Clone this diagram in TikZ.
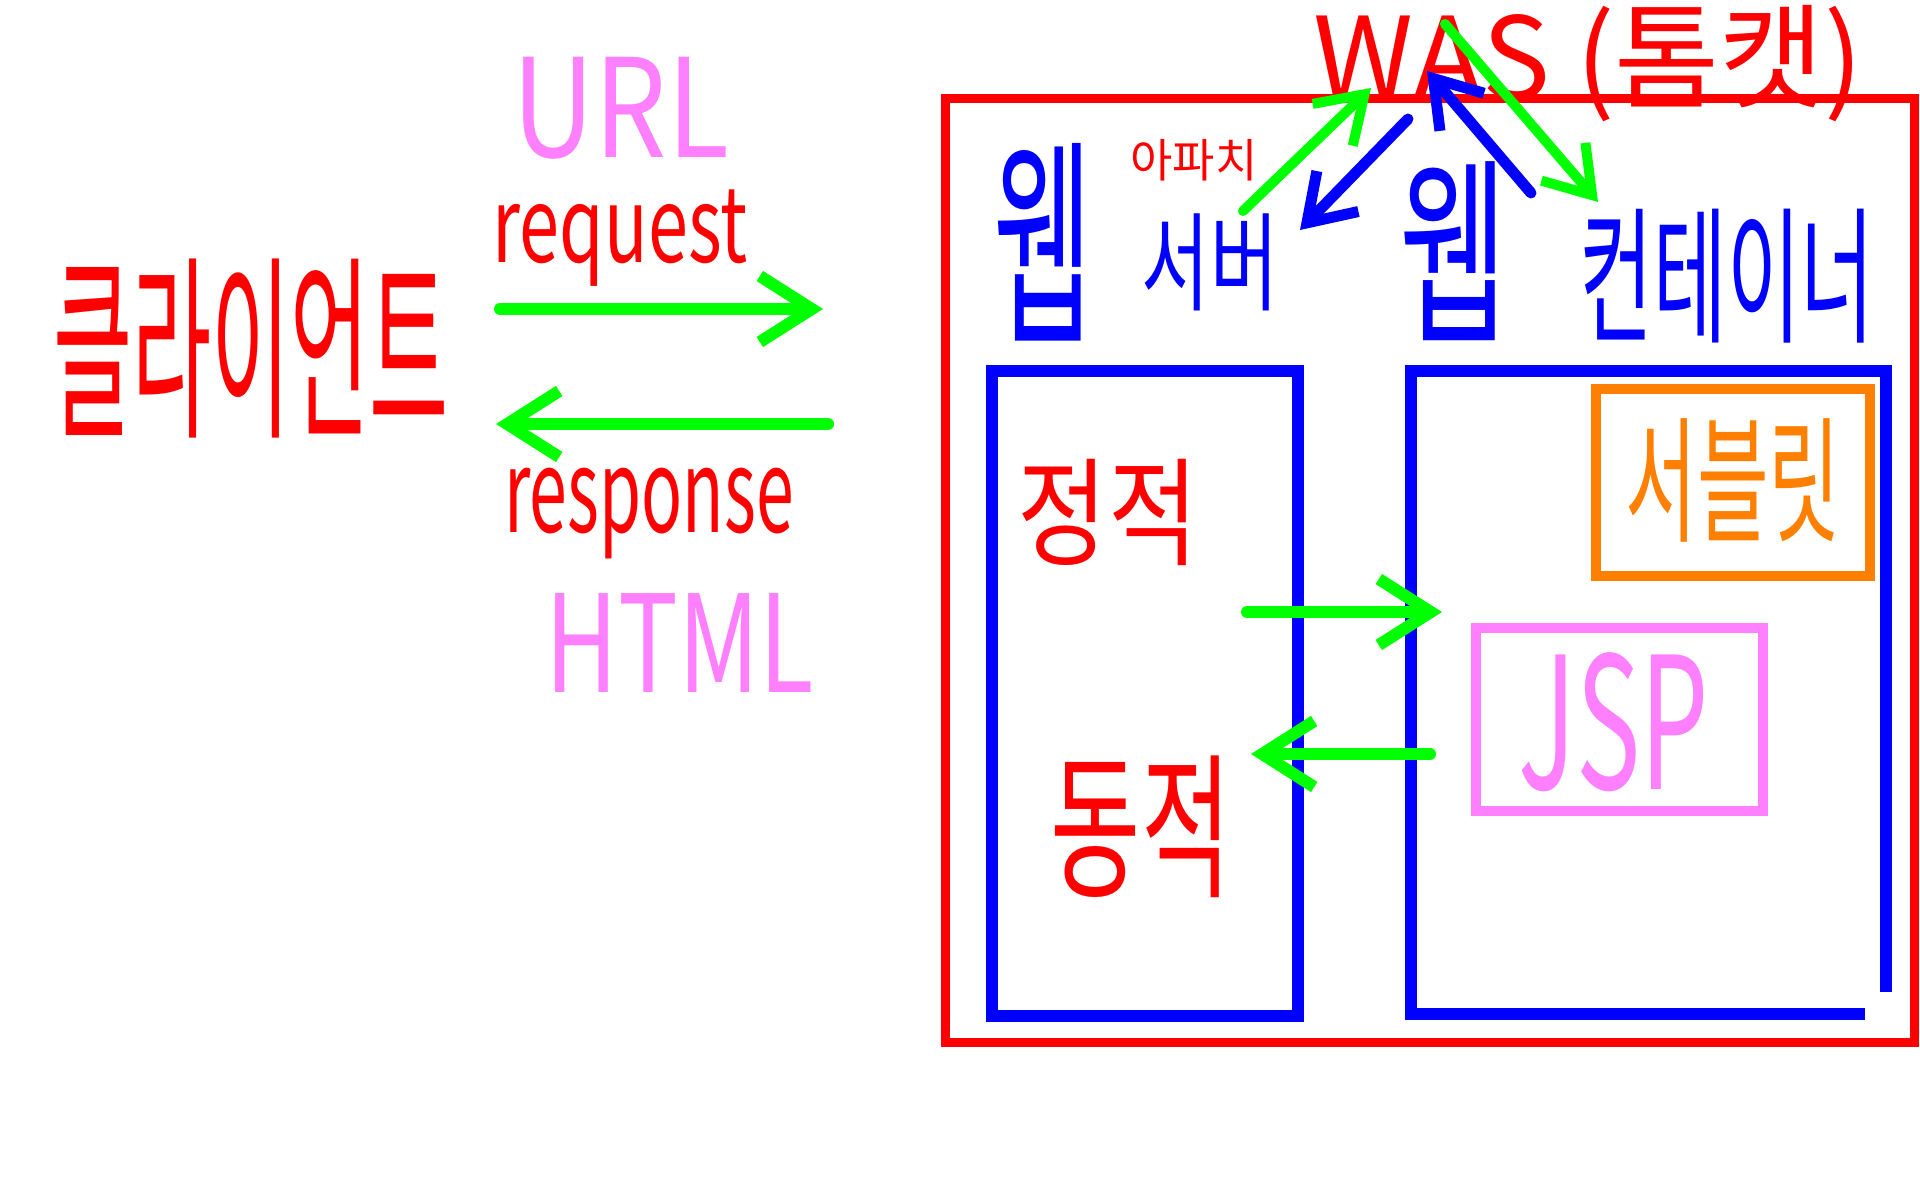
\documentclass[tikz,border=0pt]{standalone}
\usepackage{fontspec}
\setmainfont{Noto Sans CJK KR}
\usetikzlibrary{arrows.meta}
\definecolor{pred}{RGB}{255,0,0}
\definecolor{pgreen}{RGB}{0,255,0}
\definecolor{pblue}{RGB}{0,0,255}
\definecolor{ppink}{RGB}{255,128,255}
\definecolor{porange}{RGB}{255,128,0}
\newcommand\vstretch[2]{\scalebox{1}[#1]{#2}}
\begin{document}
\begin{tikzpicture}[x=1pt,y=-1pt,
  line cap=round, line join=round,
  txt/.style={inner sep=0pt, anchor=center},
  tipbig/.style={-{Straight Barb[length=52pt,width=66pt]}},
  tipmid/.style={-{Straight Barb[length=44pt,width=58pt]}},
  garrow/.style={draw=pgreen, line width=12pt, tipbig},
  garrowsm/.style={draw=pgreen, line width=10pt, tipmid},
  barrow/.style={draw=pblue, line width=11pt, tipmid},
  redbox/.style={draw=pred, line width=9pt, line cap=rect, line join=miter},
  bluebox/.style={draw=pblue, line width=12pt, line cap=rect, line join=miter},
  orangebox/.style={draw=porange, line width=10pt, line join=miter},
  pinkbox/.style={draw=ppink, line width=10pt, line join=miter}]
\useasboundingbox (0,0) rectangle (1920,1200);
\fill[white] (0,0) rectangle (1920,1200);

% boxes
\draw[redbox] (945,98) rectangle (1914,1042);
\draw[bluebox] (992,371) rectangle (1298,1016);
\draw[bluebox] (1859,1014) -- (1411,1014) -- (1411,371) -- (1886,371) -- (1886,986);
\draw[orangebox] (1596,389) rectangle (1870,576);
\draw[pinkbox] (1476,628) rectangle (1763,811);

% texts
\node[txt, text=pred, font=\fontsize{86}{86}\selectfont] (client) at (251,349) {\vstretch{2.3}{클라이언트}};
\node[txt, text=ppink, font=\fontsize{114}{114}\selectfont] (url) at (621,108) {\vstretch{1.2}{URL}};
\node[txt, text=pred, font=\fontsize{72}{72}\selectfont] (request) at (620,238) {\vstretch{1.45}{request}};
\node[txt, text=pred, font=\fontsize{68}{68}\selectfont] (response) at (649,514) {\vstretch{1.7}{response}};
\node[txt, text=ppink, font=\fontsize{100}{100}\selectfont] (html) at (680,643) {\vstretch{1.35}{HTML}};
\node[txt, text=pred, font=\fontsize{114}{114}\selectfont] (was) at (1588,64) {WAS (톰캣)};
\node[txt, text=pred, font=\fontsize{46}{46}\selectfont] (apache) at (1194,160) {아파치};
\node[txt, text=pblue, font=\fontsize{108}{108}\selectfont] (web1) at (1043,242) {\vstretch{2.05}{웹}};
\node[txt, text=pblue, font=\fontsize{74}{74}\selectfont] (server) at (1210,262) {\vstretch{1.45}{서버}};
\node[txt, text=pblue, font=\fontsize{118}{118}\selectfont] (web2) at (1454,251) {\vstretch{1.7}{웹}};
\node[txt, text=pblue, font=\fontsize{80}{80}\selectfont] (container) at (1727,276) {\vstretch{1.85}{컨테이너}};
\node[txt, text=pred, font=\fontsize{98}{98}\selectfont] (static) at (1108,512) {\vstretch{1.2}{정적}};
\node[txt, text=pred, font=\fontsize{98}{98}\selectfont] (dynamic) at (1141,827) {\vstretch{1.6}{동적}};
\node[txt, text=porange, font=\fontsize{78}{78}\selectfont] (servlet) at (1733,480) {\vstretch{1.75}{서블릿}};
\node[txt, text=ppink, font=\fontsize{108}{108}\selectfont] (jsp) at (1614,722) {\vstretch{1.7}{JSP}};

% connector end points
\coordinate (reqA) at (500,309);
\coordinate (reqB) at (823,309);
\coordinate (resA) at (828,424);
\coordinate (resB) at (496,424);
\coordinate (inA) at (1247,612);
\coordinate (inB) at (1442,612);
\coordinate (outA) at (1430,754);
\coordinate (outB) at (1251,754);
\coordinate (g1A) at (1243,211);
\coordinate (g1B) at (1371,88);
\coordinate (b1A) at (1408,119);
\coordinate (b1B) at (1300,230);
\coordinate (b2A) at (1531,193);
\coordinate (b2B) at (1427,71);
\coordinate (g2A) at (1445,24);
\coordinate (g2B) at (1598,202);

% arrows
\draw[garrow] (reqA) -- (reqB);
\draw[garrow] (resA) -- (resB);
\draw[garrow] (inA) -- (inB);
\draw[garrow] (outA) -- (outB);
\draw[barrow] (b1A) -- (b1B);
\draw[barrow] (b2A) -- (b2B);
\draw[garrowsm] (g1A) -- (g1B);
\draw[garrowsm] (g2A) -- (g2B);
\end{tikzpicture}
\end{document}
